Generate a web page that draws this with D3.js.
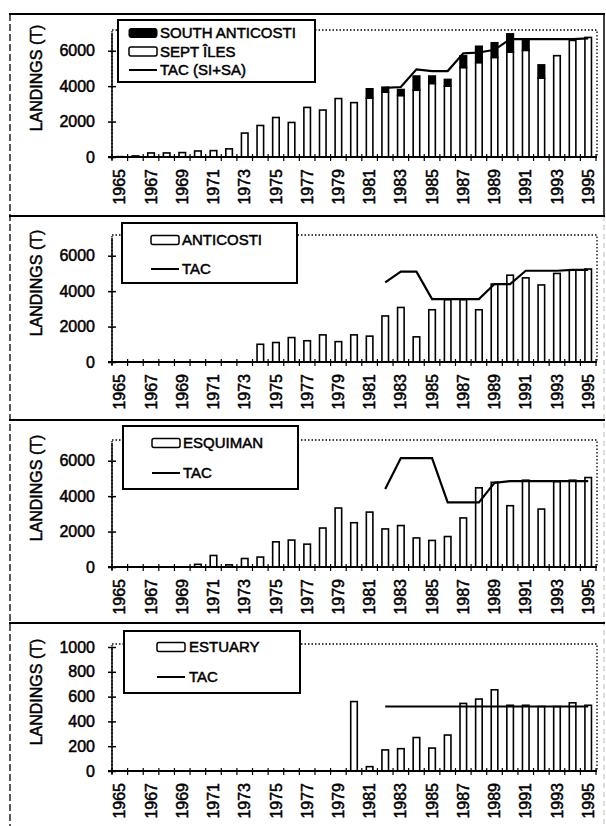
<html>
<script src='https://d3js.org/d3.v7.min.js'></script>
<style>
body {margin: 0; background: white;}
text {font-family: "Liberation Sans", Arial, sans-serif; fill: black; stroke: black; stroke-width: 0.5px;}
.bar {stroke: black; stroke-width: 1.6px;}
.tac {fill: none; stroke: black; stroke-width: 2.2px;}
</style>
<body>
<svg width=606 height=826></svg>
<script>
// landings by year, tonnes
var years = [1965,1966,1967,1968,1969,1970,1971,1972,1973,1974,1975,1976,1977,1978,1979,1980,
             1981,1982,1983,1984,1985,1986,1987,1988,1989,1990,1991,1992,1993,1994,1995];
var yearLabels = [1965,1967,1969,1971,1973,1975,1977,1979,1981,1983,1985,1987,1989,1991,1993,1995];

var septIles = [20,60,230,230,250,340,360,460,1350,1780,2230,1950,2800,2650,3300,3070,
                3330,3660,3470,3770,4150,4000,5050,5330,5620,5920,6020,4450,5720,6580,6750];
var southAnticosti = [0,0,0,0,0,0,0,0,0,0,0,0,0,0,0,0,
                      520,280,340,800,420,380,660,920,830,1030,630,750,0,0,0];
var tacSISA = [null,null,null,null,null,null,null,null,null,null,null,null,null,null,null,null,
               null,3900,3950,4950,4850,4850,5850,5900,6050,6650,6650,6650,6650,6650,6700];

var anticosti = [0,0,0,0,0,0,0,0,0,1000,1100,1380,1200,1530,1150,1530,
                 1460,2600,3080,1420,2950,3520,3520,2950,4400,4900,4750,4350,5000,5200,5250];
var tacAnticosti = [null,null,null,null,null,null,null,null,null,null,null,null,null,null,null,null,
                    null,4500,5100,5100,3550,3550,3550,3550,4400,4400,5150,5150,5150,5200,5200];

var esquiman = [0,0,0,0,0,150,650,120,480,560,1420,1520,1290,2200,3330,2500,
                3100,2150,2340,1640,1500,1720,2770,4470,4780,3460,4900,3270,4820,4900,5050];
var tacEsquiman = [null,null,null,null,null,null,null,null,null,null,null,null,null,null,null,null,
                   null,4400,6150,6150,6150,3650,3650,3650,4750,4850,4850,4850,4850,4850,4850];

var estuary = [0,0,0,0,0,0,0,0,0,0,0,0,0,0,0,560,
               35,170,180,270,185,290,545,580,655,530,530,520,520,550,530];
var tacEstuary = [null,null,null,null,null,null,null,null,null,null,null,null,null,null,null,null,
                  null,520,520,520,520,520,520,520,520,520,520,520,520,520,520];

var ticksBig = [0,2000,4000,6000];
var ticksSmall = [0,200,400,600,800,1000];

var svg = d3.select("svg");

// frame round the four panels
var frameTops = [14, 216, 420, 623];
svg.append("line").attr("x1",10).attr("x2",10).attr("y1",14).attr("y2",826)
    .attr("stroke","black").attr("stroke-width",1.3).attr("stroke-dasharray","7,3");
svg.append("line").attr("x1",604).attr("x2",604).attr("y1",14).attr("y2",216)
    .attr("stroke","black").attr("stroke-width",1.5);
svg.append("line").attr("x1",604).attr("x2",604).attr("y1",216).attr("y2",826)
    .attr("stroke","#bbb").attr("stroke-width",1).attr("stroke-dasharray","5,4");
frameTops.forEach(function(t) {
    svg.append("line").attr("x1",9).attr("x2",605).attr("y1",t).attr("y2",t)
        .attr("stroke","black").attr("stroke-width",2);
});

var x = d3.scaleBand().domain(years).range([112, 596]).paddingInner(0.58).paddingOuter(0.29);
var step = x.step();

var panels = [
  {top: 14, zero: 157, max: 7000, ticks: ticksBig, white: septIles, black: southAnticosti, tac: tacSISA,
   legend: {x0: 118, x1: 315, y0: 20, y1: 82, sx: 129, tx: 160, rows: [33, 51.5, 70],
            names: ["SOUTH ANTICOSTI", "SEPT ÎLES", "TAC (SI+SA)"]}},
  {top: 216, zero: 362, max: 7000, ticks: ticksBig, white: anticosti, black: null, tac: tacAnticosti,
   legend: {x0: 122, x1: 297, y0: 223, y1: 283, sx: 151, tx: 182, rows: [240, 269],
            names: ["ANTICOSTI", "TAC"]}},
  {top: 420, zero: 567, max: 7000, ticks: ticksBig, white: esquiman, black: null, tac: tacEsquiman,
   legend: {x0: 123, x1: 298, y0: 426, y1: 489, sx: 152, tx: 183, rows: [443, 473],
            names: ["ESQUIMAN", "TAC"]}},
  {top: 623, zero: 771, max: 1000, ticks: ticksSmall, white: estuary, black: null, tac: tacEstuary,
   legend: {x0: 124, x1: 300, y0: 631, y1: 693, sx: 157, tx: 189, rows: [647, 677],
            names: ["ESTUARY", "TAC"]}}
];

panels.forEach(function(p) {
    var y = d3.scaleLinear().domain([0, p.max]).range([p.zero, p.zero - 124]);
    var g = svg.append("g");

    // dotted plot area
    g.append("rect").attr("x", 112).attr("y", p.zero - 127).attr("width", 485).attr("height", 127)
        .attr("fill","none").attr("stroke","black").attr("stroke-width",1.3).attr("stroke-dasharray","1.5,2");

    // bars
    var rows = years.map(function(yr, i) {
        return {year: yr, w: p.white[i], b: p.black ? p.black[i] : 0};
    });
    g.selectAll(".wbar").data(rows.filter(function(d) { return d.w > 0; }))
      .enter().append("rect")
        .attr("class","bar")
        .attr("fill","white")
        .attr("x", function(d) { return x(d.year); })
        .attr("width", x.bandwidth())
        .attr("y", function(d) { return y(d.w); })
        .attr("height", function(d) { return y(0) - y(d.w); });
    g.selectAll(".bbar").data(rows.filter(function(d) { return d.b > 0; }))
      .enter().append("rect")
        .attr("class","bar")
        .attr("fill","black")
        .attr("x", function(d) { return x(d.year); })
        .attr("width", x.bandwidth())
        .attr("y", function(d) { return y(d.w + d.b); })
        .attr("height", function(d) { return y(d.w) - y(d.w + d.b); });

    // TAC line
    var line = d3.line()
        .defined(function(d) { return d.v != null; })
        .x(function(d) { return x(d.year) + x.bandwidth() / 2; })
        .y(function(d) { return y(d.v); });
    g.append("path").attr("class","tac")
        .attr("d", line(years.map(function(yr, i) { return {year: yr, v: p.tac[i]}; })));

    // y axis, ticks cross the line
    var yAxis = g.append("g").attr("transform","translate(112,0)")
        .call(d3.axisLeft(y).tickValues(p.ticks).tickFormat(d3.format("d")).tickSize(4).tickPadding(13));
    yAxis.select(".domain").remove();
    yAxis.selectAll(".tick line").attr("x1", 4).attr("stroke-width", 1.5);
    yAxis.selectAll("text").attr("font-size", 16);
    g.append("line").attr("x1",112).attr("x2",112).attr("y1",p.zero + 3).attr("y2",y(p.max))
        .attr("stroke","black").attr("stroke-width",1.5);

    // x axis with marks between the years
    g.append("line").attr("x1",108).attr("x2",597).attr("y1",p.zero).attr("y2",p.zero)
        .attr("stroke","black").attr("stroke-width",2);
    var bounds = years.map(function(yr) { return x(yr) + x.bandwidth() / 2 - step / 2; });
    bounds.push(bounds[bounds.length - 1] + step);
    g.selectAll(".xtick").data(bounds).enter().append("line")
        .attr("x1", function(d) { return d; }).attr("x2", function(d) { return d; })
        .attr("y1", p.zero - 3).attr("y2", p.zero + 4)
        .attr("stroke","black").attr("stroke-width",1.2);
    var xAxis = g.append("g").attr("transform","translate(0," + p.zero + ")")
        .call(d3.axisBottom(x).tickValues(yearLabels).tickSize(0));
    xAxis.select(".domain").remove();
    xAxis.selectAll("text")
        .attr("font-size", 16)
        .attr("transform","rotate(-90)")
        .attr("text-anchor","end")
        .attr("x", -12).attr("y", 0).attr("dy","0.35em");

    // axis title
    g.append("text")
        .attr("transform","translate(36," + ((p.zero + p.zero - 124) / 2 - 17) + ") rotate(-90)")
        .attr("text-anchor","middle").attr("dy","0.35em")
        .attr("font-size", 16)
        .text("LANDINGS (T)");

    // legend
    var L = p.legend;
    g.append("rect").attr("x", L.x0).attr("y", L.y0).attr("width", L.x1 - L.x0).attr("height", L.y1 - L.y0)
        .attr("fill","white").attr("stroke","black").attr("stroke-width",2);
    var k = 0;
    if (p.black) {
        g.append("rect").attr("x", L.sx).attr("y", L.rows[k] - 4.5).attr("width", 28).attr("height", 9)
            .attr("rx", 2).attr("fill","black").attr("stroke","black");
        g.append("text").attr("x", L.tx).attr("y", L.rows[k]).attr("dy","0.35em")
            .attr("font-size", 15).text(L.names[k]);
        k++;
    }
    g.append("rect").attr("x", L.sx).attr("y", L.rows[k] - 4.5).attr("width", 28).attr("height", 9)
        .attr("rx", 2).attr("fill","white").attr("stroke","black").attr("stroke-width",1.5);
    g.append("text").attr("x", L.tx).attr("y", L.rows[k]).attr("dy","0.35em")
        .attr("font-size", 15).text(L.names[k]);
    k++;
    g.append("line").attr("x1", L.sx).attr("x2", L.sx + 28).attr("y1", L.rows[k]).attr("y2", L.rows[k])
        .attr("stroke","black").attr("stroke-width",2);
    g.append("text").attr("x", L.tx).attr("y", L.rows[k]).attr("dy","0.35em")
        .attr("font-size", 15).text(L.names[k]);
});
</script>
</body>
</html>
